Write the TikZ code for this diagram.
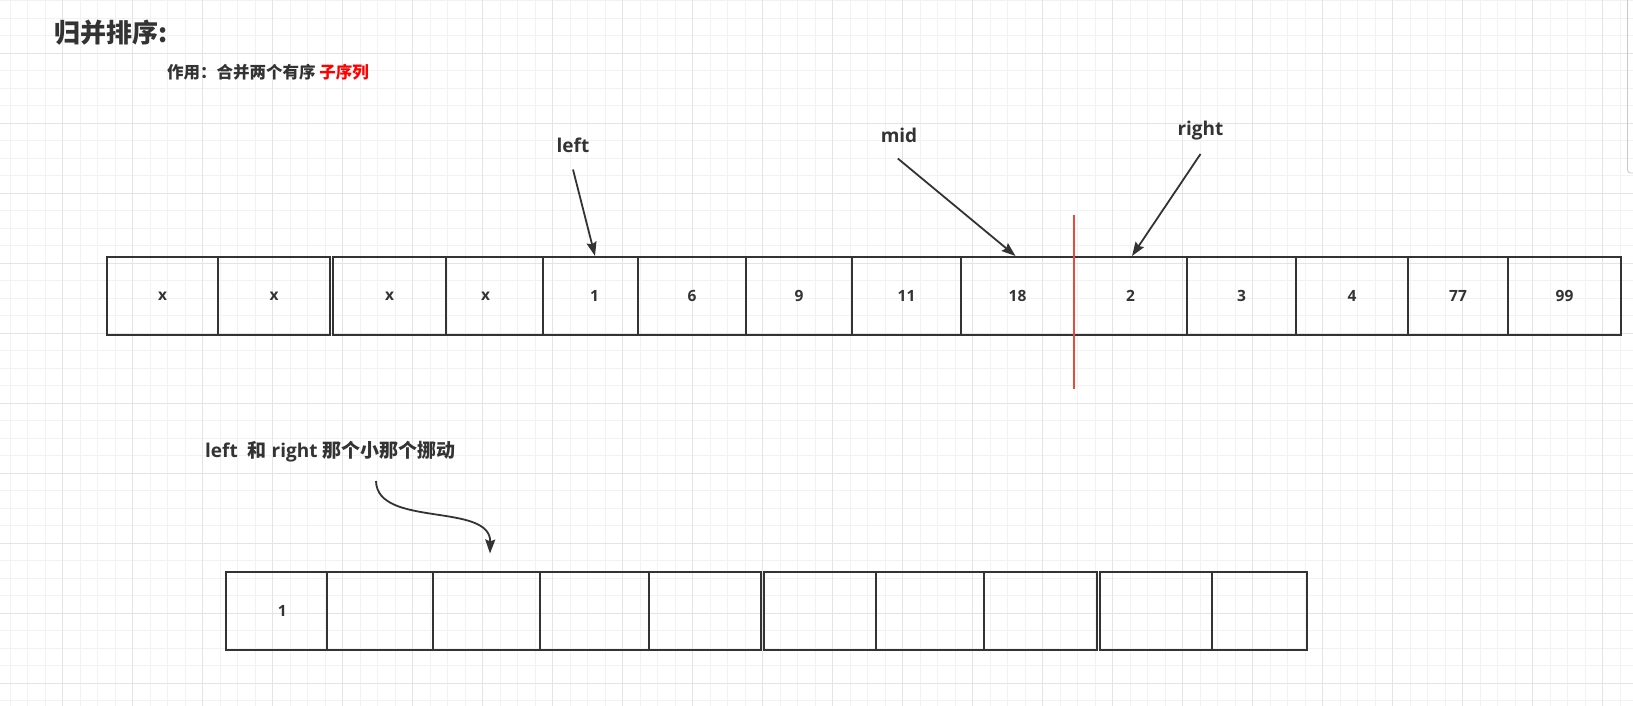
\documentclass[tikz,border=0pt]{standalone}
\usepackage{fontspec}
\setmainfont{Open Sans}
\newfontfamily\cjk{Noto Sans CJK SC}
\usetikzlibrary{arrows.meta}
\definecolor{ink}{HTML}{333333}
\definecolor{gridminor}{HTML}{F2F2F2}
\definecolor{gridmajor}{HTML}{E4E4E4}
\definecolor{redmark}{HTML}{F0453A}
\definecolor{redtext}{HTML}{FF0000}
\definecolor{scrollgray}{HTML}{C8C8C8}
\begin{document}
\begin{tikzpicture}[x=1pt,y=-1pt,
  cell/.style={draw=ink, line width=2pt, minimum height=78pt, inner sep=0pt,
    text=ink, font=\fontsize{15.5}{17}\selectfont\bfseries},
  celltext/.style={text=ink, inner sep=0pt, font=\fontsize{15.5}{17}\selectfont\bfseries},
  lbl/.style={text=ink, inner sep=0pt, font=\fontsize{19}{22}\selectfont\bfseries},
  ptr/.style={draw=ink, line width=1.8pt, -{Stealth[length=14pt, width=10pt, inset=2pt]}},
  redmarkline/.style={draw=redmark, line width=1.6pt},
  minorline/.style={draw=gridminor, line width=1pt},
  majorline/.style={draw=gridmajor, line width=1pt}
]
\useasboundingbox (0,0) rectangle (1633,706);
\clip (0,0) rectangle (1633,706);
\fill[white] (0,0) rectangle (1633,706);
% grid
\foreach \i in {0,...,93} { \draw[minorline] ({10.2+17.5*\i},0) -- ({10.2+17.5*\i},706); }
\foreach \j in {0,...,40} { \draw[minorline] (0,{0.8+17.5*\j}) -- (1633,{0.8+17.5*\j}); }
\foreach \i in {0,...,23} { \draw[majorline] ({-7.3+70*\i},0) -- ({-7.3+70*\i},706); }
\foreach \j in {0,...,10} { \draw[majorline] (0,{-16.7+70*\j}) -- (1633,{-16.7+70*\j}); }
% scrollbar edge
\draw[scrollgray, line width=0.8pt, rounded corners=3pt] (1645,-5) -- (1627.5,-5) -- (1627.5,173) -- (1645,173);

% titles
\node[anchor=west, inner sep=0pt, text=ink, font=\cjk\bfseries\fontsize{26}{30}\selectfont] (title) at (54,33) {归并排序:};
\node[anchor=west, inner sep=0pt, text=ink, font=\cjk\bfseries\fontsize{16.5}{19}\selectfont] (subtitle) at (167,72.5) {作用：合并两个有序 \textcolor{redtext}{子序列}};

% top array
\node[cell, minimum width=111pt] (t1) at (162.5,296) {x};
\node[cell, minimum width=112pt] (t2) at (274,296) {x};
\node[cell, minimum width=113pt] (t3) at (389.5,296) {x};
\node[cell, minimum width=97pt, label={[celltext, xshift=-9pt]center:x}] (t4) at (494.5,296) {};
\node[cell, minimum width=95pt, label={[celltext, xshift=4pt]center:1}] (t5) at (590.5,296) {};
\node[cell, minimum width=108pt] (t6) at (692,296) {6};
\node[cell, minimum width=106pt] (t7) at (799,296) {9};
\node[cell, minimum width=109pt] (t8) at (906.5,296) {11};
\node[cell, minimum width=113pt] (t9) at (1017.5,296) {18};
\node[cell, minimum width=113pt] (t10) at (1130.5,296) {2};
\node[cell, minimum width=109pt] (t11) at (1241.5,296) {3};
\node[cell, minimum width=112pt] (t12) at (1352,296) {4};
\node[cell, minimum width=100pt] (t13) at (1458,296) {77};
\node[cell, minimum width=113pt] (t14) at (1564.5,296) {99};

% pointer labels
\node[lbl] (leftlbl) at (573,145) {left};
\node[lbl] (midlbl) at (899,135.5) {mid};
\node[lbl] (rightlbl) at (1200.5,130.5) {right};
\coordinate (ls) at (573,169.5);
\coordinate (ms) at (897.8,158.5);
\coordinate (rs) at (1200.5,154);
\draw[ptr] (ls) -- ([xshift=4.5pt]t5.north);
\draw[ptr] (ms) -- ([xshift=-2pt]t9.north);
\draw[ptr] (rs) -- ([xshift=1.5pt]t10.north);

% red divider
\coordinate (redtop) at (1074,215);
\coordinate (redbot) at (1074,388.5);
\draw[redmarkline] (redtop) -- (redbot);

% bottom note
\node[lbl, anchor=west] (note) at (205,451.5) {left\ \ {\cjk\bfseries 和} right {\cjk\bfseries 那个小那个挪动}};
\coordinate (cs) at (376,481);
\coordinate (ct) at (490,553.5);
\draw[ptr] (cs) .. controls (377,528) and (491,502) .. (ct);

% bottom array
\node[cell, minimum width=100.5pt, label={[celltext, xshift=6pt]center:1}] (b1) at (276.25,611) {};
\node[cell, minimum width=106.8pt] (b2) at (379.9,611) {};
\node[cell, minimum width=106.7pt] (b3) at (486.65,611) {};
\node[cell, minimum width=108.5pt] (b4) at (594.25,611) {};
\node[cell, minimum width=112.5pt] (b5) at (704.75,611) {};
\node[cell, minimum width=112pt] (b6) at (819.5,611) {};
\node[cell, minimum width=108.5pt] (b7) at (929.75,611) {};
\node[cell, minimum width=113pt] (b8) at (1040.5,611) {};
\node[cell, minimum width=112pt] (b9) at (1155.5,611) {};
\node[cell, minimum width=95.5pt] (b10) at (1259.25,611) {};
\end{tikzpicture}
\end{document}
